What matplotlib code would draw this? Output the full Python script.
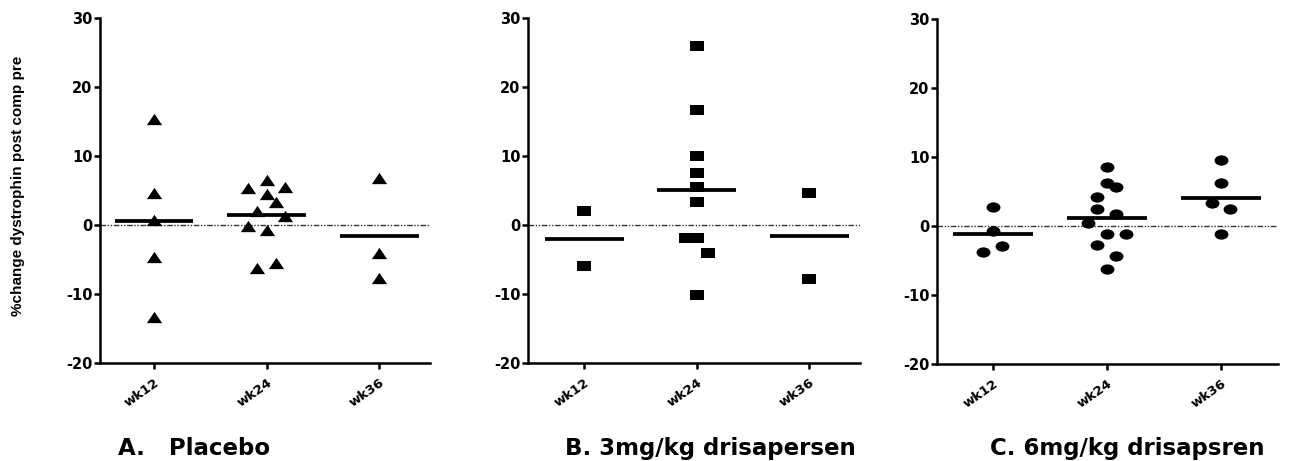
import matplotlib.pyplot as plt
from matplotlib.path import Path
import numpy as np

plt.rcParams['font.family'] = ['DejaVu Sans']
plt.rcParams['font.weight'] = 'bold'
plt.rcParams['axes.unicode_minus'] = False

weeks = ['wk12', 'wk24', 'wk36']

# % change in dystrophin, post vs pre, one list per week
placebo = [
  [15.3, 4.7, 0.7, -4.6, -13.3],
  [5.3, 6.5, 5.5, 4.5, 3.4, 2.0, 1.3, -0.1, -0.7, -6.3, -5.5],
  [6.8, -4.1, -7.7],
]
dose_3mg = [
  [2.0, -6.0],
  [26.0, 16.7, 10.0, 7.5, 5.5, 3.4, -1.9, -1.9, -4.0, -10.1],
  [4.7, -7.8],
]
dose_6mg = [
  [2.7, -0.7, -3.8, -2.9],
  [8.6, 6.3, 5.6, 4.2, 2.4, 1.7, 0.5, -1.1, -1.1, -2.8, -4.3, -6.3],
  [9.5, 6.3, 3.3, 2.5, -1.1],
]

titles = ['A.   Placebo', 'B. 3mg/kg drisapersen', 'C. 6mg/kg drisapsren']

# sideways slots so overlapping points don't hide each other
slots_a = [[0, 0, 0, 0, 0], [-2, 0, 2, 0, 1, -1, 2, -2, 0, -1, 1], [0, 0, 0]]
slots_b = [[0, 0], [0, 0, 0, 0, 0, 0, -1, 0, 1, 0], [0, 0]]
slots_c = [[0, 0, -1, 1], [0, 0, 1, -1, -1, 1, -2, 0, 2, -1, 1, 0], [0, 0, -1, 1, 0]]

# wide, flat markers (the prism export is squashed vertically)
SX = 1.35
tri = Path([(-SX, -1), (SX, -1), (0, 1), (-SX, -1)],
           [Path.MOVETO, Path.LINETO, Path.LINETO, Path.CLOSEPOLY])
sq = Path([(-SX, -1), (SX, -1), (SX, 1), (-SX, 1), (-SX, -1)],
          [Path.MOVETO, Path.LINETO, Path.LINETO, Path.LINETO, Path.CLOSEPOLY])
circ = Path.unit_circle()
circ = Path(circ.vertices * [SX, 1], circ.codes)

W, H = 1296, 461
fig = plt.figure(figsize=(W / 100, H / 100), dpi=100)

# axes boxes in pixels: left, right, top, bottom
boxes = [(100, 430, 18, 363), (528, 860, 18, 363), (937, 1278, 19, 364)]
xlims = [(-0.48, 2.45), (-0.50, 2.45), (-0.49, 2.50)]
panels = [(placebo, slots_a, tri, 0.083, 11), (dose_3mg, slots_b, sq, 0.10, 10),
          (dose_6mg, slots_c, circ, 0.083, 10)]

for i, ((data, slots, mk, step, ms), (l, r, t, b)) in enumerate(zip(panels, boxes)):
  ax = fig.add_axes([l / W, (H - b) / H, (r - l) / W, (b - t) / H])
  ax.axhline(0, color='#333333', lw=1.0, ls=(0, (4, 1.2, 1, 1.2, 1, 1.2)), zorder=1)
  for j, vals in enumerate(data):
    xs = j + np.array(slots[j]) * step
    ax.plot(xs, vals, ls='none', marker=mk, ms=ms, mew=0, color='black', zorder=3)
    m = np.mean(vals)
    ax.plot([j - 0.35, j + 0.35], [m, m], color='black', lw=2.7,
            solid_capstyle='butt', zorder=4)
  ax.set_xlim(*xlims[i])
  ax.set_ylim(-20, 30)
  ax.set_yticks([-20, -10, 0, 10, 20, 30])
  ax.set_xticks(range(3))
  ax.set_xticklabels(weeks, rotation=35, ha='right', rotation_mode='anchor',
                     fontsize=9.5, fontweight='bold')
  for lab in ax.get_yticklabels():
    lab.set_fontsize(10.5)
    lab.set_fontweight('bold')
  for side in ['top', 'right']:
    ax.spines[side].set_visible(False)
  for side in ['left', 'bottom']:
    ax.spines[side].set_linewidth(1.8)
  ax.tick_params(width=1.8, length=4.5, pad=1)
  ax.tick_params(axis='x', pad=5)

fig.text(18 / W, (H - 186) / H, '%change dystrophin post comp pre',
         rotation=90, ha='center', va='center', fontsize=11,
         fontweight='bold', family='Liberation Sans')

title_x = [118, 565, 990]
for tx, ttl in zip(title_x, titles):
  fig.text(tx / W, (H - 448) / H, ttl, fontsize=16.5, fontweight='bold', va='center')

fig.savefig('out.png', dpi=100)
